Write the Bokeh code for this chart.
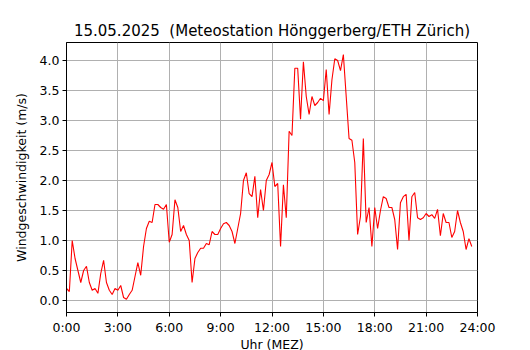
import numpy as np
from bokeh.plotting import figure
from bokeh.models import Range1d, FixedTicker
from bokeh.embed import file_html
from bokeh.resources import INLINE

# Wind speed (m/s), 10-minute values from 0:00 to 23:50
speed = [
    0.20, 0.15, 1.00, 0.70, 0.50, 0.30, 0.50, 0.57, 0.30, 0.17, 0.20, 0.12,
    0.45, 0.67, 0.30, 0.17, 0.10, 0.20, 0.17, 0.25, 0.05, 0.02, 0.10, 0.17,
    0.40, 0.63, 0.42, 0.90, 1.20, 1.32, 1.30, 1.60, 1.60, 1.55, 1.52, 1.60,
    0.97, 1.10, 1.68, 1.55, 1.15, 1.25, 1.10, 1.00, 0.30, 0.70, 0.80, 0.87,
    0.87, 0.95, 0.93, 1.15, 1.10, 1.10, 1.20, 1.28, 1.30, 1.25, 1.15, 0.95,
    1.20, 1.45, 2.00, 2.13, 1.78, 1.73, 2.07, 1.38, 1.85, 1.50, 2.00, 2.10,
    2.30, 1.90, 1.95, 0.90, 1.93, 1.38, 2.82, 2.75, 3.87, 3.87, 3.02, 3.98,
    3.40, 3.10, 3.40, 3.25, 3.30, 3.37, 3.33, 3.85, 3.10, 3.68, 4.03, 4.00,
    3.83, 4.10, 3.40, 2.70, 2.67, 2.30, 1.10, 1.40, 2.70, 1.30, 1.55, 0.90,
    1.55, 1.20, 1.50, 1.73, 1.70, 1.55, 1.55, 1.35, 0.85, 1.63, 1.73, 1.77,
    1.00, 1.73, 1.80, 1.38, 1.35, 1.38, 1.45, 1.40, 1.43, 1.37, 1.52, 1.08,
    1.45, 1.30, 1.30, 1.05, 1.15, 1.50, 1.30, 1.15, 0.85, 1.03, 0.90,
]
# sampling interval: 10 minutes -> hours
hours = np.arange(len(speed)) / 6.0

x_ticks = [0, 3, 6, 9, 12, 15, 18, 21, 24]
x_labels = ["0:00", "3:00", "6:00", "9:00", "12:00", "15:00", "18:00", "21:00", "24:00"]
y_ticks = [0.0, 0.5, 1.0, 1.5, 2.0, 2.5, 3.0, 3.5, 4.0]

FONT = "DejaVu Sans"

p = figure(
    frame_width=411, frame_height=270,
    min_border_left=66, min_border_right=45, min_border_top=42, min_border_bottom=34,
    x_range=Range1d(0, 24), y_range=Range1d(-0.2, 4.3),
    output_backend="svg", toolbar_location=None,
    title="15.05.2025\u00a0\u00a0(Meteostation Hönggerberg/ETH Zürich)",
)

p.line(hours, speed, line_color="red", line_width=1.1)

p.title.align = "center"
p.title.text_font = FONT
p.title.text_font_size = "15px"
p.title.text_font_style = "normal"
p.title.text_color = "black"
p.title.standoff = 6

p.outline_line_color = "black"
p.outline_line_alpha = 1
p.outline_line_width = 1

p.xaxis.ticker = FixedTicker(ticks=x_ticks)
p.xaxis.major_label_overrides = {t: l for t, l in zip(x_ticks, x_labels)}
p.yaxis.ticker = FixedTicker(ticks=y_ticks)
p.yaxis.major_label_overrides = {t: f"{t:.1f}" for t in y_ticks}

for ax in (p.xaxis, p.yaxis):
    ax.axis_line_color = "black"
    ax.major_tick_line_color = "black"
    ax.major_tick_in = 0
    ax.major_tick_out = 4
    ax.minor_tick_line_color = None
    ax.major_label_text_font = FONT
    ax.major_label_text_font_size = "12.5px"
    ax.major_label_text_color = "black"
    ax.major_label_standoff = 3
    ax.axis_label_text_font = FONT
    ax.axis_label_text_font_size = "12.5px"
    ax.axis_label_text_font_style = "normal"
    ax.axis_label_text_color = "black"

p.xaxis.axis_label_standoff = -1
p.yaxis.axis_label_standoff = 8

p.xaxis.axis_label = "Uhr (MEZ)"
p.yaxis.axis_label = "Windgeschwindigkeit (m/s)"

p.xgrid.grid_line_color = "#b0b0b0"
p.ygrid.grid_line_color = "#b0b0b0"
p.xgrid.grid_line_width = 1
p.ygrid.grid_line_width = 1

open("out.html", "w").write(file_html(p, INLINE))
